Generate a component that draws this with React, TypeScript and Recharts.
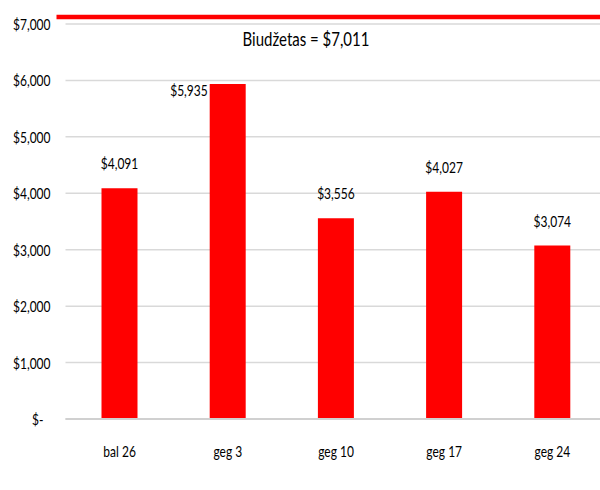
import React from 'react';
import { BarChart, Bar, XAxis, YAxis, CartesianGrid, ReferenceLine, LabelList } from 'recharts';

const CATEGORIES = ['bal 26', 'geg 3', 'geg 10', 'geg 17', 'geg 24'];
const SPENDING = [4091, 5935, 3556, 4027, 3074];
const BUDGET = 7011;
const Y_TICKS = [0, 1000, 2000, 3000, 4000, 5000, 6000, 7000];
const BUDGET_LABEL = 'Biudžetas = $7,011';

const data = CATEGORIES.map((c, i) => ({ name: c, value: SPENDING[i] }));

const FONT = 'Lato, "Open Sans", sans-serif';
const SX = 0.75;

const fmt = (v: number) => (v === 0 ? '$-' : '$' + v.toLocaleString('en-US'));

const SText = ({ x, y, anchor, size, children }: any) => (
  <text
    transform={`translate(${x},${y}) scale(${SX},1)`}
    x={0}
    y={0}
    textAnchor={anchor}
    fontSize={size}
    fill="#000"
    fontFamily={FONT}
  >
    {children}
  </text>
);

const YTick = (props: any) => {
  const { x, y, payload } = props;
  const v = payload.value;
  return <SText x={v === 0 ? x - 7 : x} y={y + 6} anchor="end" size={16}>{fmt(v)}</SText>;
};

const XTick = (props: any) => {
  const { x, y, payload } = props;
  return <SText x={x} y={y + 14} anchor="middle" size={16}>{payload.value}</SText>;
};

const ValueLabel = (props: any) => {
  const { x, y, width, value, index } = props;
  if (index === 1) {
    return <SText x={x - 2} y={y + 12} anchor="end" size={16}>{fmt(value)}</SText>;
  }
  return <SText x={x + width / 2} y={y - 19} anchor="middle" size={16}>{fmt(value)}</SText>;
};

const BudgetShape = (props: any) => {
  const { x1, x2, y1 } = props;
  const yy = y1 - 6.5;
  return (
    <g>
      <line x1={x1 - 9} x2={x2} y1={yy} y2={yy} stroke="#ff0000" strokeWidth={4.5} />
      <SText x={(x1 + x2) / 2 - 30} y={y1 + 22.5} anchor="middle" size={20}>{BUDGET_LABEL}</SText>
    </g>
  );
};

export default function App() {
  return (
    <div style={{ position: 'absolute', left: 0, top: 0, width: 600, height: 490, overflow: 'hidden', background: '#fff' }}>
      <BarChart width={608} height={490} data={data} margin={{ top: 24, right: 1.5, bottom: 31, left: 0 }} barSize={36}>
        <CartesianGrid vertical={false} stroke="#d9d9d9" strokeWidth={1.5} />
        <XAxis
          dataKey="name"
          height={40}
          tickLine={false}
          axisLine={{ stroke: '#d0d0d0', strokeWidth: 2 }}
          tick={<XTick />}
          tickMargin={18}
        />
        <YAxis
          width={65.5}
          domain={[0, 7000]}
          ticks={Y_TICKS}
          axisLine={false}
          tickLine={false}
          tickMargin={9}
          tick={<YTick />}
          allowDataOverflow
        />
        <Bar dataKey="value" fill="#ff0000" isAnimationActive={false}>
          <LabelList dataKey="value" content={<ValueLabel />} />
        </Bar>
        <ReferenceLine y={BUDGET} ifOverflow="visible" shape={<BudgetShape />} />
      </BarChart>
    </div>
  );
}
